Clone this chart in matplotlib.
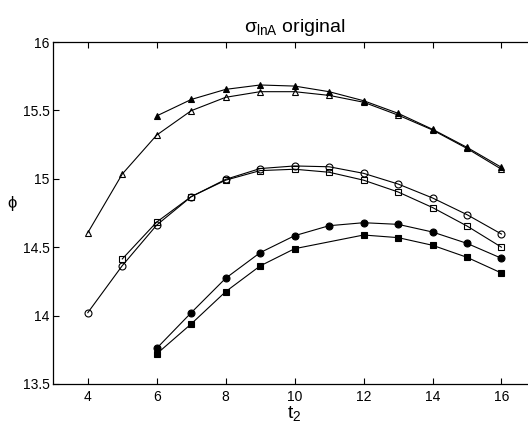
import matplotlib
matplotlib.use("Agg")
import matplotlib.pyplot as plt

plt.rcParams['font.family'] = ['Liberation Sans', 'DejaVu Sans']
plt.rcParams['mathtext.fontset'] = 'custom'
plt.rcParams['mathtext.rm'] = 'Liberation Sans'
plt.rcParams['mathtext.it'] = 'Liberation Sans'

# t2 values for each curve
t2_tri_filled = [6, 7, 8, 9, 10, 11, 12, 13, 14, 15, 16]
phi_tri_filled = [15.46, 15.58, 15.654, 15.686, 15.678, 15.637, 15.571, 15.479, 15.362, 15.23, 15.084]

t2_tri_open = [4, 5, 6, 7, 8, 9, 10, 11, 12, 13, 14, 15, 16]
phi_tri_open = [14.606, 15.035, 15.32, 15.498, 15.596, 15.637, 15.637, 15.61, 15.56, 15.466, 15.357, 15.222, 15.07]

t2_circ_open = [4, 5, 6, 7, 8, 9, 10, 11, 12, 13, 14, 15, 16]
phi_circ_open = [14.021, 14.365, 14.662, 14.869, 14.996, 15.075, 15.094, 15.088, 15.04, 14.962, 14.86, 14.738, 14.596]

t2_sq_open = [5, 6, 7, 8, 9, 10, 11, 12, 13, 14, 15, 16]
phi_sq_open = [14.414, 14.684, 14.87, 14.99, 15.06, 15.07, 15.048, 14.99, 14.904, 14.79, 14.655, 14.5]

t2_circ_filled = [6, 7, 8, 9, 10, 11, 12, 13, 14, 15, 16]
phi_circ_filled = [13.761, 14.021, 14.273, 14.46, 14.584, 14.657, 14.679, 14.667, 14.611, 14.528, 14.419]

t2_sq_filled = [6, 7, 8, 9, 10, 12, 13, 14, 15, 16]
phi_sq_filled = [13.72, 13.939, 14.175, 14.363, 14.489, 14.589, 14.57, 14.514, 14.426, 14.311]

x_ticks = [4, 6, 8, 10, 12, 14, 16]
y_ticks = [13.5, 14, 14.5, 15, 15.5, 16]

fig = plt.figure(figsize=(5.28, 4.29), dpi=100)
ax = fig.add_axes([0.101, 0.105, 0.914, 0.797])

series = [
    (t2_tri_filled, phi_tri_filled, '^', 'k'),
    (t2_tri_open, phi_tri_open, '^', 'none'),
    (t2_circ_open, phi_circ_open, 'o', 'none'),
    (t2_sq_open, phi_sq_open, 's', 'none'),
    (t2_circ_filled, phi_circ_filled, 'o', 'k'),
    (t2_sq_filled, phi_sq_filled, 's', 'k'),
]
for xs, ys, mk, fc in series:
    ms = 4.3 if mk == 's' else 5
    ax.plot(xs, ys, color='k', linewidth=0.8, marker=mk, markersize=ms,
            markerfacecolor=fc, markeredgecolor='k', markeredgewidth=0.8)

ax.set_xlim(3, 17)
ax.set_ylim(13.5, 16)
ax.set_xticks(x_ticks)
ax.set_yticks(y_ticks)
ax.set_xticklabels([str(v) for v in x_ticks])
ax.set_yticklabels(['13.5', '14', '14.5', '15', '15.5', '16'])
ax.tick_params(direction='in', length=4, width=0.8, labelsize=10,
               top=True, right=True)
ax.tick_params(axis='x', pad=4)
ax.tick_params(axis='y', pad=2.5)
for s in ax.spines.values():
    s.set_linewidth(0.9)

ax.set_title(r'$\sigma_{\mathrm{lnA}}$ original', fontsize=14, pad=7)
ax.set_xlabel(r'$\mathrm{t}_2$', fontsize=14, labelpad=0)
ax.set_ylabel(r'$\phi$', fontsize=12, rotation=0, labelpad=8)

fig.savefig('out.png', dpi=100)
